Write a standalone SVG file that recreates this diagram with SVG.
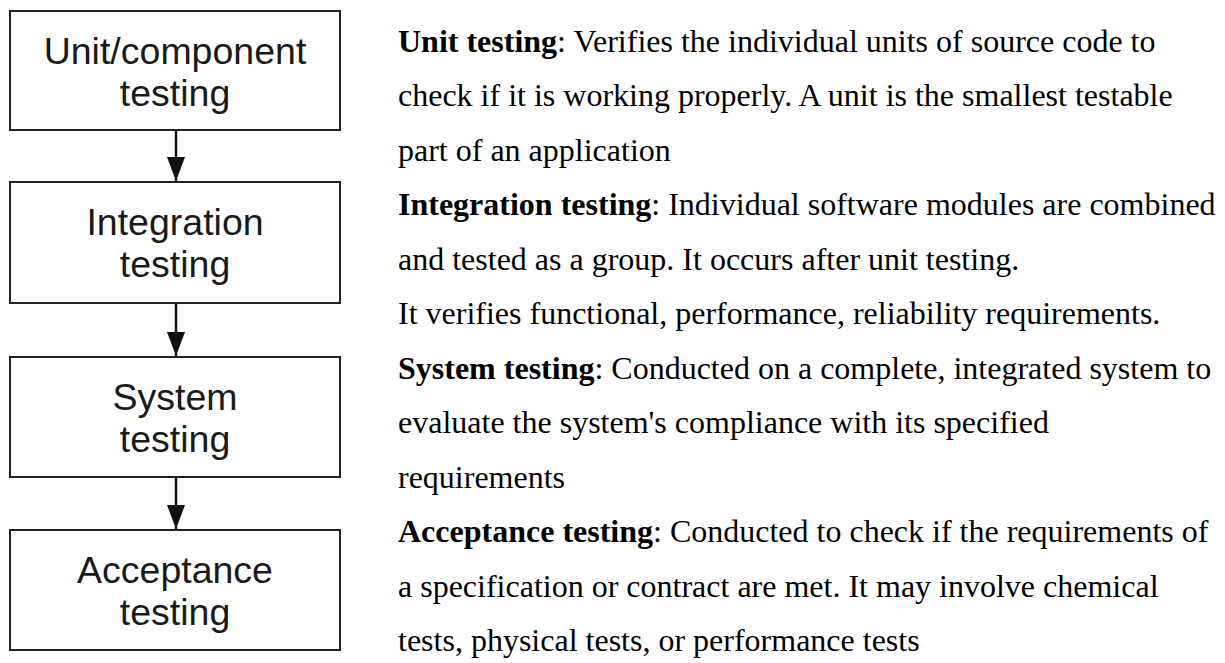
<svg xmlns="http://www.w3.org/2000/svg" width="1225" height="663" viewBox="0 0 1225 663">
  <style>
    .box { fill: #ffffff; stroke: #222222; stroke-width: 2; }
    .label { font-family: "Liberation Sans", Arial, sans-serif; font-size: 37.5px; fill: #1a1a1a; text-anchor: middle; }
    .desc { font-family: "Liberation Serif", "Times New Roman", serif; font-size: 32px; fill: #000000; }
    .desc .term { font-weight: bold; }
    .link { stroke: #111111; stroke-width: 2.5; fill: none; marker-end: url(#arrow); }
  </style>
  <defs>
    <marker id="arrow" markerUnits="userSpaceOnUse" markerWidth="20" markerHeight="26" refX="24" refY="9" orient="auto">
      <path d="M0,0 L24,9 L0,18 Z" fill="#111111"/>
    </marker>
  </defs>

  <rect width="1225" height="663" fill="#ffffff"/>

  <!-- testing levels -->
  <g id="unit">
    <rect class="box" x="10" y="11" width="330" height="119"/>
    <text class="label" x="175" y="64">Unit/component</text>
    <text class="label" x="175" y="106">testing</text>
  </g>
  <g id="integration">
    <rect class="box" x="10" y="182" width="330" height="121"/>
    <text class="label" x="175" y="235">Integration</text>
    <text class="label" x="175" y="277">testing</text>
  </g>
  <g id="system">
    <rect class="box" x="10" y="357" width="330" height="120"/>
    <text class="label" x="175" y="410">System</text>
    <text class="label" x="175" y="452">testing</text>
  </g>
  <g id="acceptance">
    <rect class="box" x="10" y="530" width="330" height="120"/>
    <text class="label" x="175" y="583">Acceptance</text>
    <text class="label" x="175" y="625">testing</text>
  </g>

  <!-- flow between levels -->
  <g id="connectors">
    <line class="link" x1="176" y1="131" x2="176" y2="181"/>
    <line class="link" x1="176" y1="304" x2="176" y2="356"/>
    <line class="link" x1="176" y1="478" x2="176" y2="529"/>
  </g>

  <!-- descriptions -->
  <g id="descriptions" class="desc">
    <text x="398" y="51.5"><tspan class="term">Unit testing</tspan>: Verifies the individual units of source code to</text>
    <text x="398" y="106">check if it is working properly. A unit is the smallest testable</text>
    <text x="398" y="160.5">part of an application</text>
    <text x="398" y="215"><tspan class="term">Integration testing</tspan>: Individual software modules are combined</text>
    <text x="398" y="269.5">and tested as a group. It occurs after unit testing.</text>
    <text x="398" y="324">It verifies functional, performance, reliability requirements.</text>
    <text x="398" y="378.5"><tspan class="term">System testing</tspan>: Conducted on a complete, integrated system to</text>
    <text x="398" y="433">evaluate the system's compliance with its specified</text>
    <text x="398" y="487.5">requirements</text>
    <text x="398" y="542"><tspan class="term">Acceptance testing</tspan>: Conducted to check if the requirements of</text>
    <text x="398" y="596.5">a specification or contract are met. It may involve chemical</text>
    <text x="398" y="651">tests, physical tests, or performance tests</text>
  </g>
</svg>
